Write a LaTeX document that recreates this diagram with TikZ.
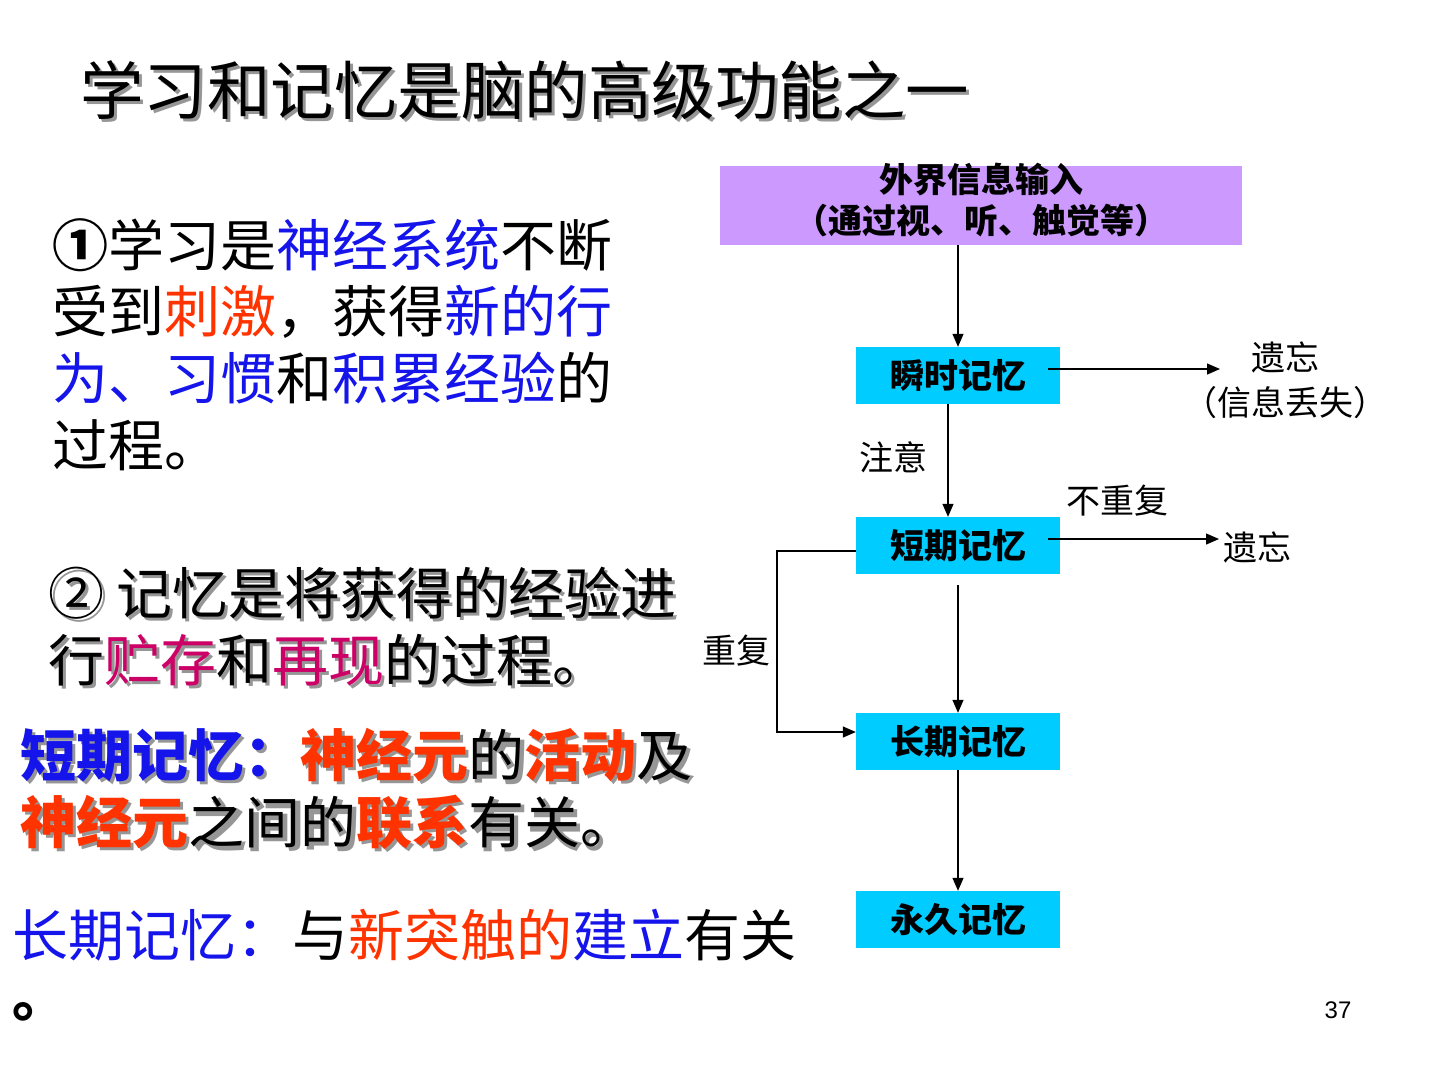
\documentclass[tikz,border=0pt]{standalone}
\usepackage{fontspec}
\setmainfont{Liberation Sans}
\newfontfamily\cjk{Noto Sans CJK SC}
\usetikzlibrary{arrows.meta,calc}
\definecolor{tblue}{RGB}{20,20,235}
\definecolor{tred}{RGB}{255,51,0}
\definecolor{tmag}{RGB}{204,0,102}
\definecolor{purp}{RGB}{204,153,255}
\definecolor{cyanbox}{RGB}{0,204,255}
\definecolor{shadowgray}{RGB}{150,150,150}
\newcommand\C[2]{\textcolor{#1}{#2}}
\newcommand\CG[2]{#2}
\newcommand\shtext[4]{% name, style, position, content
  \node[#2, text=shadowgray] at ($(#3)+(3,3)$) {\let\C\CG #4};
  \node[#2] (#1) at (#3) {#4};
}
\begin{document}
\begin{tikzpicture}[x=1pt,y=-1pt,
  txt/.style={anchor=west, inner sep=0pt, font=\cjk\fontsize{56}{56}\selectfont},
  ttl/.style={anchor=west, inner sep=0pt, font=\cjk\fontsize{63.5}{63.5}\selectfont},
  membox/.style={fill=cyanbox, draw=none, minimum width=204pt, minimum height=57pt, inner sep=0pt, font=\cjk\bfseries\fontsize{34}{34}\selectfont},
  lbl/.style={inner sep=0pt, align=center, font=\cjk\fontsize{34}{45}\selectfont},
  arr/.style={draw=black, line width=1.3pt, -{Triangle[length=13pt,width=11pt]}}
]
\fill[white] (0,0) rectangle (1440,1080);
\useasboundingbox (0,0) rectangle (1440,1080);

% title
\shtext{title}{ttl}{80,90}{学习和记忆是脑的高级功能之一}

% paragraph 1
\node[txt] (p1a) at (52,245) {{\bfseries ①}学习是\C{tblue}{神经系统}不断};
\node[txt] (p1b) at (52,312) {受到\C{tred}{刺激}，获得\C{tblue}{新的行}};
\node[txt] (p1c) at (52,378) {\C{tblue}{为、习惯}和\C{tblue}{积累经验}的};
\node[txt] (p1d) at (52,445) {过程。};

% paragraph 2
\shtext{p2a}{txt}{48,593}{② 记忆是将获得的经验进}
\shtext{p2b}{txt}{48,660}{行\C{tmag}{贮存}和\C{tmag}{再现}的过程。}

% short-term
\shtext{s1}{txt}{20,755}{\C{tblue}{\bfseries 短期记忆：}\C{tred}{\bfseries 神经元}的\C{tred}{\bfseries 活动}及}
\shtext{s2}{txt}{20,822}{\C{tred}{\bfseries 神经元}之间的\C{tred}{\bfseries 联系}有关。}

% long-term
\node[txt] (l1) at (12,935) {\C{tblue}{长期记忆：}与\C{tred}{新突触的}\C{tblue}{建立}有关};
\node[txt] (l2) at (12,1012) {\bfseries 。};

% page number
\node[inner sep=0pt, font=\fontsize{24}{24}\selectfont] (pg) at (1338,1010) {37};

% flowchart
\node[fill=purp, minimum width=522pt, minimum height=79pt, inner sep=0pt, align=center,
      font=\cjk\bfseries\fontsize{34}{41}\selectfont] (input) at (981,205.5) {};
\node[inner sep=0pt, align=center, font=\cjk\bfseries\fontsize{34}{41}\selectfont] (inputtxt) at (981,200)
      {外界信息输入\\（通过视、听、触觉等）};
\node[membox] (b1) at (958,375.5) {瞬时记忆};
\node[membox] (b2) at (958,545.5) {短期记忆};
\node[membox] (b3) at (958,741.5) {长期记忆};
\node[membox] (b4) at (958,919.5) {永久记忆};

\node[lbl] (f1) at (1285,380.5) {遗忘\\（信息丢失）};
\node[lbl] (att) at (893,457) {注意};
\node[lbl] (norep) at (1117,501) {不重复};
\node[lbl] (f2) at (1257,547) {遗忘};
\node[lbl] (rep) at (736,651) {重复};

\coordinate (e1) at (1220,369);
\coordinate (e2) at (1219,539);
\coordinate (lpa) at (777,551);
\coordinate (lpb) at (777,732);

\draw[arr] (b1.north |- input.south) -- (b1.north);
\draw[arr] ([xshift=-12pt]b1.east |- e1) -- (e1);
\draw[arr] ([xshift=-10pt]b1.south) -- ([xshift=-10pt]b2.north);
\draw[arr] ([xshift=-12pt]b2.east |- e2) -- (e2);
\draw[arr] ([yshift=-11pt]b2.south) -- (b3.north);
\draw[arr] (b3.south) -- (b4.north);
\draw[arr] (b2.west |- lpa) -- (lpa) -- (lpb) -- (b3.west |- lpb);
\end{tikzpicture}
\end{document}
